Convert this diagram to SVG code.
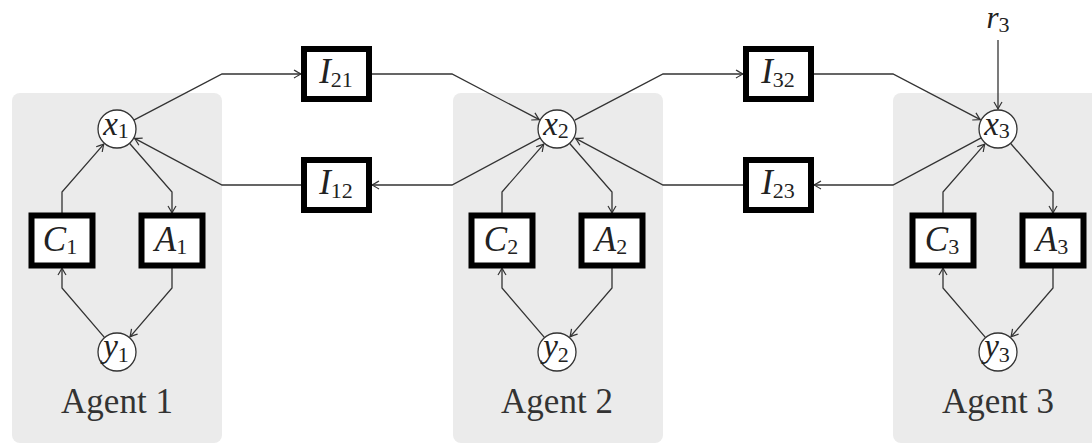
<svg xmlns="http://www.w3.org/2000/svg" width="1092" height="445" viewBox="0 0 1092 445">
<style>
.panel{fill:#ebebeb;stroke:none}
.box{fill:#fff;stroke:#000;stroke-width:6}
.circ{fill:#fff;stroke:#333;stroke-width:1.3}
.ln{fill:none;stroke:#333;stroke-width:1.3;marker-end:url(#arr)}
text{font-family:'Liberation Serif','Times New Roman',serif}
.lbl{font-size:35px;fill:#222;text-anchor:middle}
.cl{font-size:33px;fill:#222;text-anchor:middle}
.v{font-style:italic}
.s{font-size:22px;font-style:normal}
.ag{font-size:35px;fill:#333;text-anchor:middle}
</style>
<defs>
<marker id="arr" markerUnits="userSpaceOnUse" markerWidth="14" markerHeight="12" viewBox="-8 -6 10 12" refX="0" refY="0" orient="auto" overflow="visible">
<path d="M-7,-4 Q-2,-1 0,0 Q-2,1 -7,4" fill="none" stroke="#333" stroke-width="1.2"/>
</marker>
</defs>
<g id="panels">
<rect class="panel" x="12" y="93" width="210" height="350" rx="8"/>
<rect class="panel" x="453" y="93" width="210" height="350" rx="8"/>
<rect class="panel" x="893" y="93" width="210" height="350" rx="8"/>
</g>
<g id="connectors">
<path class="ln" d="M62,213 L62,192 L103.8,144.1"/>
<path class="ln" d="M129.5,143.3 L172,192 L172,213"/>
<path class="ln" d="M172,268 L172,288 L130,336.8"/>
<path class="ln" d="M104.6,337.6 L62,288 L62,268"/>
<path class="ln" d="M502,213 L502,192 L543.8,144.1"/>
<path class="ln" d="M569.5,143.3 L612,192 L612,213"/>
<path class="ln" d="M612,268 L612,288 L570,336.8"/>
<path class="ln" d="M544.6,337.6 L502,288 L502,268"/>
<path class="ln" d="M943,213 L943,192 L984.8,144.1"/>
<path class="ln" d="M1010.5,143.3 L1053,192 L1053,213"/>
<path class="ln" d="M1053,268 L1053,288 L1011,336.8"/>
<path class="ln" d="M985.6,337.6 L943,288 L943,268"/>
<path class="ln" d="M133.8,120.2 L222,74 L301,74"/>
<path class="ln" d="M372,74 L452,74 L539.3,119.7"/>
<path class="ln" d="M540.2,137.9 L452,185 L372,185"/>
<path class="ln" d="M301,185 L222,185 L134.6,138.4"/>
<path class="ln" d="M574.8,120.2 L663,74 L743,74"/>
<path class="ln" d="M814,74 L893,74 L980.3,119.7"/>
<path class="ln" d="M981.2,137.9 L893,185 L814,185"/>
<path class="ln" d="M743,185 L663,185 L575.6,138.4"/>
<path class="ln" d="M998,40 L998,109"/>
</g>
<g id="x1"><circle class="circ" cx="117" cy="129" r="19"/><text class="cl" x="116" y="135"><tspan class="v">x</tspan><tspan class="s" dy="3">1</tspan></text></g>
<g id="C1"><rect class="box" x="31.5" y="215.5" width="61" height="50"/><text class="lbl" x="60" y="251"><tspan class="v">C</tspan><tspan class="s" dy="3">1</tspan></text></g>
<g id="A1"><rect class="box" x="141.5" y="215.5" width="61" height="50"/><text class="lbl" x="171" y="251"><tspan class="v">A</tspan><tspan class="s" dy="3">1</tspan></text></g>
<g id="y1"><circle class="circ" cx="117" cy="352" r="19"/><text class="cl" x="116" y="357"><tspan class="v">y</tspan><tspan class="s" dy="5">1</tspan></text></g>
<g id="agent1"><text class="ag" x="117" y="413">Agent 1</text></g>

<g id="x2"><circle class="circ" cx="557" cy="129" r="19"/><text class="cl" x="556" y="135"><tspan class="v">x</tspan><tspan class="s" dy="3">2</tspan></text></g>
<g id="C2"><rect class="box" x="471.5" y="215.5" width="61" height="50"/><text class="lbl" x="501" y="251"><tspan class="v">C</tspan><tspan class="s" dy="3">2</tspan></text></g>
<g id="A2"><rect class="box" x="581.5" y="215.5" width="61" height="50"/><text class="lbl" x="611" y="251"><tspan class="v">A</tspan><tspan class="s" dy="3">2</tspan></text></g>
<g id="y2"><circle class="circ" cx="557" cy="352" r="19"/><text class="cl" x="556" y="357"><tspan class="v">y</tspan><tspan class="s" dy="5">2</tspan></text></g>
<g id="agent2"><text class="ag" x="557" y="413">Agent 2</text></g>

<g id="x3"><circle class="circ" cx="998" cy="129" r="19"/><text class="cl" x="997" y="135"><tspan class="v">x</tspan><tspan class="s" dy="3">3</tspan></text></g>
<g id="C3"><rect class="box" x="912.5" y="215.5" width="61" height="50"/><text class="lbl" x="942" y="251"><tspan class="v">C</tspan><tspan class="s" dy="3">3</tspan></text></g>
<g id="A3"><rect class="box" x="1022.5" y="215.5" width="61" height="50"/><text class="lbl" x="1052" y="251"><tspan class="v">A</tspan><tspan class="s" dy="3">3</tspan></text></g>
<g id="y3"><circle class="circ" cx="998" cy="352" r="19"/><text class="cl" x="997" y="357"><tspan class="v">y</tspan><tspan class="s" dy="5">3</tspan></text></g>
<g id="agent3"><text class="ag" x="998" y="413">Agent 3</text></g>

<g id="r3"><text class="cl" x="998" y="28" style="font-size:31px"><tspan class="v">r</tspan><tspan class="s" dy="4">3</tspan></text></g>

<g id="I21"><rect class="box" x="304" y="49" width="65" height="50"/><text class="lbl" x="336" y="83"><tspan class="v">I</tspan><tspan class="s" dy="4">21</tspan></text></g>
<g id="I12"><rect class="box" x="304" y="160" width="65" height="50"/><text class="lbl" x="336" y="194"><tspan class="v">I</tspan><tspan class="s" dy="4">12</tspan></text></g>
<g id="I32"><rect class="box" x="746" y="49" width="65" height="50"/><text class="lbl" x="778" y="83"><tspan class="v">I</tspan><tspan class="s" dy="4">32</tspan></text></g>
<g id="I23"><rect class="box" x="746" y="160" width="65" height="50"/><text class="lbl" x="778" y="194"><tspan class="v">I</tspan><tspan class="s" dy="4">23</tspan></text></g>
</svg>
